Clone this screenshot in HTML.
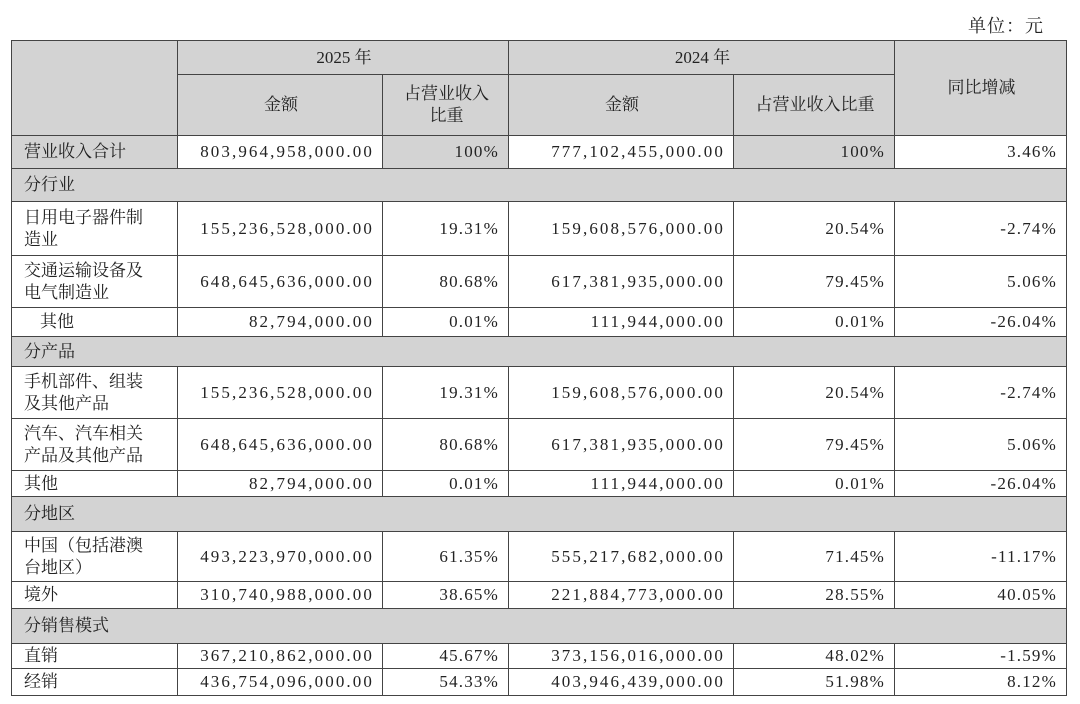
<!DOCTYPE html>
<html><head><meta charset="utf-8"><style>
body{margin:0;background:#fff;width:1080px;height:704px;position:relative;font-family:"Liberation Serif","Noto Serif CJK SC",serif;color:#222;}
.unit{position:absolute;left:968px;top:12px;font-size:18px;letter-spacing:1px;}
table{position:absolute;left:11px;top:40px;border-collapse:collapse;table-layout:fixed;font-size:17px;}
td{border:1.3px solid #444;padding:0 10px 0 12px;line-height:22px;overflow:hidden;white-space:nowrap;}
.g{background:#d3d3d3;}
.c{text-align:center;}
.r{text-align:right;letter-spacing:1.2px;padding-right:9px;}
.num{text-align:right;letter-spacing:2.1px;padding-right:8px;}
</style></head><body>
<div class="unit">单位：元</div>
<table>
<colgroup><col style="width:166px"><col style="width:205px"><col style="width:126px"><col style="width:225px"><col style="width:161px"><col style="width:172px"></colgroup>
<tr style="height:34px"><td class="g" rowspan="2"></td><td class="g c" colspan="2">2025 年</td><td class="g c" colspan="2">2024 年</td><td class="g c" rowspan="2">同比增减</td></tr>
<tr style="height:61px"><td class="g c">金额</td><td class="g c">占营业收入<br>比重</td><td class="g c">金额</td><td class="g c">占营业收入比重</td></tr>
<tr style="height:33px"><td class="g">营业收入合计</td><td class="num">803,964,958,000.00</td><td class="g r">100%</td><td class="num">777,102,455,000.00</td><td class="g r">100%</td><td class="r">3.46%</td></tr>
<tr style="height:33px"><td class="g" colspan="6">分行业</td></tr>
<tr style="height:54px"><td>日用电子器件制<br>造业</td><td class="num">155,236,528,000.00</td><td class="r">19.31%</td><td class="num">159,608,576,000.00</td><td class="r">20.54%</td><td class="r">-2.74%</td></tr>
<tr style="height:52px"><td>交通运输设备及<br>电气制造业</td><td class="num">648,645,636,000.00</td><td class="r">80.68%</td><td class="num">617,381,935,000.00</td><td class="r">79.45%</td><td class="r">5.06%</td></tr>
<tr style="height:29px"><td style="padding-left:28px">其他</td><td class="num">82,794,000.00</td><td class="r">0.01%</td><td class="num">111,944,000.00</td><td class="r">0.01%</td><td class="r">-26.04%</td></tr>
<tr style="height:30px"><td class="g" colspan="6">分产品</td></tr>
<tr style="height:52px"><td>手机部件、组装<br>及其他产品</td><td class="num">155,236,528,000.00</td><td class="r">19.31%</td><td class="num">159,608,576,000.00</td><td class="r">20.54%</td><td class="r">-2.74%</td></tr>
<tr style="height:52px"><td>汽车、汽车相关<br>产品及其他产品</td><td class="num">648,645,636,000.00</td><td class="r">80.68%</td><td class="num">617,381,935,000.00</td><td class="r">79.45%</td><td class="r">5.06%</td></tr>
<tr style="height:26px"><td>其他</td><td class="num">82,794,000.00</td><td class="r">0.01%</td><td class="num">111,944,000.00</td><td class="r">0.01%</td><td class="r">-26.04%</td></tr>
<tr style="height:35px"><td class="g" colspan="6">分地区</td></tr>
<tr style="height:50px"><td>中国（包括港澳<br>台地区）</td><td class="num">493,223,970,000.00</td><td class="r">61.35%</td><td class="num">555,217,682,000.00</td><td class="r">71.45%</td><td class="r">-11.17%</td></tr>
<tr style="height:27px"><td>境外</td><td class="num">310,740,988,000.00</td><td class="r">38.65%</td><td class="num">221,884,773,000.00</td><td class="r">28.55%</td><td class="r">40.05%</td></tr>
<tr style="height:35px"><td class="g" colspan="6">分销售模式</td></tr>
<tr style="height:25px"><td>直销</td><td class="num">367,210,862,000.00</td><td class="r">45.67%</td><td class="num">373,156,016,000.00</td><td class="r">48.02%</td><td class="r">-1.59%</td></tr>
<tr style="height:27px"><td>经销</td><td class="num">436,754,096,000.00</td><td class="r">54.33%</td><td class="num">403,946,439,000.00</td><td class="r">51.98%</td><td class="r">8.12%</td></tr>
</table>
</body></html>
